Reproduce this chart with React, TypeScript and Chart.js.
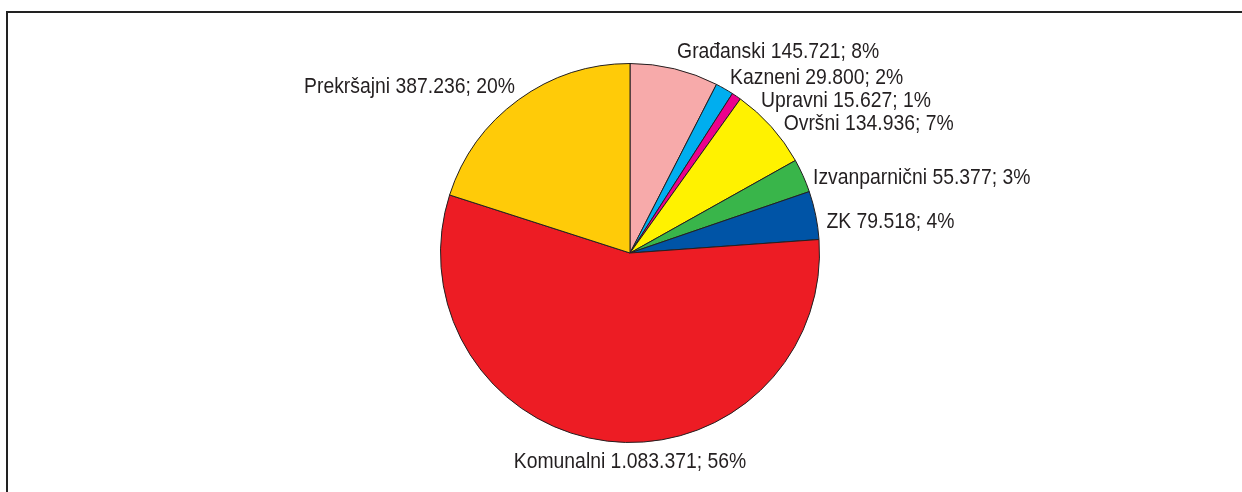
import React, { useEffect, useRef } from "react";
import { Chart, registerables } from "chart.js";

Chart.register(...registerables);

const categories = ["Građanski", "Kazneni", "Upravni", "Ovršni", "Izvanparnični", "ZK", "Komunalni", "Prekršajni"];
const values = [145721, 29800, 15627, 134936, 55377, 79518, 1083371, 387236];
const colors = ["#F7AAAA", "#00AEEF", "#EC008C", "#FFF200", "#39B54A", "#0054A6", "#ED1C24", "#FFCB08"];

const fmt = (n: number) => String(n).replace(/\B(?=(\d{3})+(?!\d))/g, ".");

const FONT_PX = 21.5;
const SCALE_X = 0.9;

const labelPlugin = {
  id: "outsideLabels",
  afterDatasetsDraw(chart: any) {
    const ctx = chart.ctx;
    const meta = chart.getDatasetMeta(0);
    const total = values.reduce((a, b) => a + b, 0);
    ctx.save();
    ctx.font = `${FONT_PX}px 'Liberation Sans', Arial, sans-serif`;
    ctx.fillStyle = "#231F20";
    ctx.textBaseline = "middle";
    const gap = 23;
    const items: any[] = [];
    meta.data.forEach((arc: any, i: number) => {
      const p = arc.getProps(["x", "y", "startAngle", "endAngle", "outerRadius"], true);
      const mid = (p.startAngle + p.endAngle) / 2;
      const D = p.outerRadius + 11;
      const txt = `${categories[i]} ${fmt(values[i])}; ${Math.round((values[i] / total) * 100)}%`;
      const c = Math.cos(mid);
      items.push({
        txt,
        cx: p.x,
        cy: p.y,
        D,
        c,
        s: Math.sin(mid),
        x: p.x + c * D,
        y: p.y + Math.sin(mid) * D + (c > 0.15 ? 20 * c - 11 : 0),
      });
    });
    const right = items.filter((it) => it.c > 0.15).sort((a, b) => a.y - b.y);
    let prev = -Infinity;
    right.forEach((it) => {
      if (it.y < prev + gap) {
        it.y = prev + gap;
        const dy = it.y - it.cy;
        if (Math.abs(dy) < it.D) it.x = it.cx + Math.sqrt(it.D * it.D - dy * dy);
      }
      prev = it.y;
    });
    const draw = (txt: string, x: number, y: number, align: string) => {
      ctx.save();
      ctx.translate(x, y);
      ctx.scale(SCALE_X, 1);
      ctx.textAlign = align;
      ctx.fillText(txt, 0, 0);
      ctx.restore();
    };
    items.forEach((it) => {
      if (it.c > 0.15) draw(it.txt, it.x, it.y, "left");
      else if (it.c < -0.15) draw(it.txt, it.x + 3, it.y - 4, "right");
      else draw(it.txt, it.cx, it.y + (it.s > 0 ? 10 : -10), "center");
    });
    ctx.restore();
  },
};

export default function App() {
  const ref = useRef<HTMLCanvasElement>(null);
  useEffect(() => {
    document.body.style.margin = "0";
    const chart = new Chart(ref.current!, {
      type: "pie",
      data: {
        labels: categories,
        datasets: [
          {
            data: values,
            backgroundColor: colors,
            borderColor: "#231F20",
            borderWidth: 1,
            hoverBorderWidth: 1,
          },
        ],
      },
      options: {
        animation: false,
        responsive: false,
        events: [],
        layout: { padding: { top: 63, bottom: 49, left: 260, right: 242 } },
        plugins: { legend: { display: false }, tooltip: { enabled: false } },
      },
      plugins: [labelPlugin],
    });
    return () => chart.destroy();
  }, []);
  return (
    <div style={{ position: "relative", width: 1242, height: 492, overflow: "hidden", background: "#fff" }}>
      <div
        style={{
          position: "absolute",
          left: 6,
          top: 11,
          width: 1300,
          height: 600,
          borderLeft: "2px solid #222",
          borderTop: "2px solid #222",
        }}
      />
      <canvas ref={ref} width={1242} height={492} style={{ position: "absolute", left: 0, top: 0 }} />
    </div>
  );
}
